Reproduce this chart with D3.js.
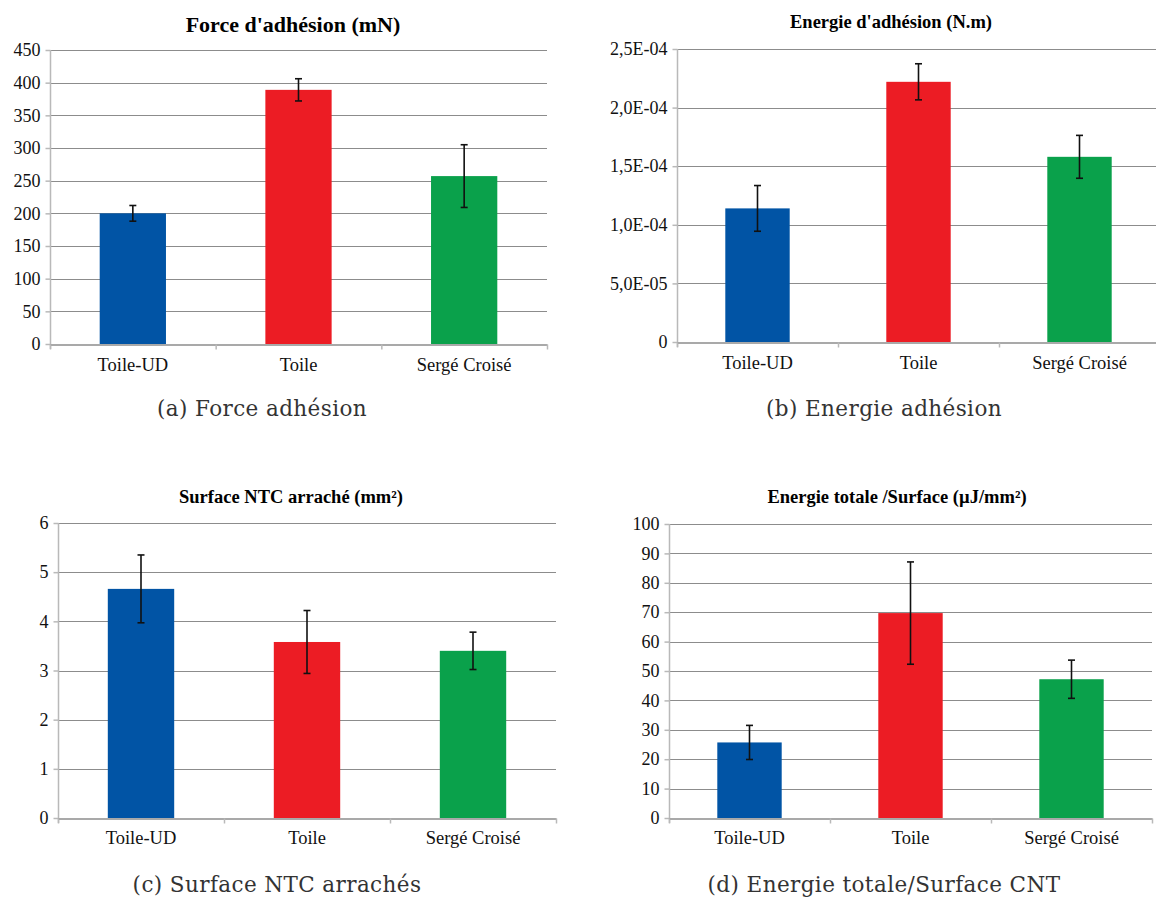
<!DOCTYPE html>
<html>
<head>
<meta charset="utf-8">
<script src="https://cdn.jsdelivr.net/npm/d3@7"></script>
<style>
  html, body { margin: 0; padding: 0; background: #fff; }
  svg { display: block; }
</style>
</head>
<body>
<svg id="fig" width="1156" height="900"></svg>
<script>
// ---------- DATA ----------
const categories = ["Toile-UD", "Toile", "Sergé Croisé"];
const barColors = ["#0154a5", "#ec1c24", "#0aa14b"];

const forceValues = [200, 389, 257];
const forceErrors = [12, 17, 48];
const forceTicks = [0, 50, 100, 150, 200, 250, 300, 350, 400, 450];
const forceTickLabels = ["0", "50", "100", "150", "200", "250", "300", "350", "400", "450"];

const energyValues = [1.14e-4, 2.22e-4, 1.58e-4];
const energyErrors = [0.195e-4, 0.154e-4, 0.183e-4];
const energyTicks = [0, 5e-5, 1e-4, 1.5e-4, 2e-4, 2.5e-4];
const energyTickLabels = ["0", "5,0E-05", "1,0E-04", "1,5E-04", "2,0E-04", "2,5E-04"];

const surfaceValues = [4.66, 3.58, 3.40];
const surfaceErrors = [0.69, 0.64, 0.38];
const surfaceTicks = [0, 1, 2, 3, 4, 5, 6];
const surfaceTickLabels = ["0", "1", "2", "3", "4", "5", "6"];

const ratioValues = [25.7, 69.7, 47.2];
const ratioErrors = [5.8, 17.4, 6.5];
const ratioTicks = [0, 10, 20, 30, 40, 50, 60, 70, 80, 90, 100];
const ratioTickLabels = ["0", "10", "20", "30", "40", "50", "60", "70", "80", "90", "100"];

const titles = ["Force d'adhésion (mN)", "Energie d'adhésion (N.m)", "Surface NTC arraché (mm²)", "Energie totale /Surface (µJ/mm²)"];
const captions = ["(a) Force adhésion", "(b) Energie adhésion", "(c) Surface NTC arrachés", "(d) Energie totale/Surface CNT"];

// ---------- LAYOUT ----------
const panels = [
  { values: forceValues, errors: forceErrors, ticks: forceTicks, tickLabels: forceTickLabels, title: titles[0], caption: captions[0],
    x0: 50, x1: 547, yTop: 50, y0: 344, titleX: 293, titleY: 32, titleSize: 22, catY: 371, capX: 262, capY: 416 },
  { values: energyValues, errors: energyErrors, ticks: energyTicks, tickLabels: energyTickLabels, title: titles[1], caption: captions[1],
    x0: 677, x1: 1160, yTop: 49, y0: 342, titleX: 891, titleY: 28, titleSize: 18.5, catY: 369, capX: 884, capY: 416 },
  { values: surfaceValues, errors: surfaceErrors, ticks: surfaceTicks, tickLabels: surfaceTickLabels, title: titles[2], caption: captions[2],
    x0: 58, x1: 556, yTop: 523, y0: 818, titleX: 291, titleY: 503, titleSize: 18.5, catY: 844, capX: 277, capY: 892 },
  { values: ratioValues, errors: ratioErrors, ticks: ratioTicks, tickLabels: ratioTickLabels, title: titles[3], caption: captions[3],
    x0: 669, x1: 1152, yTop: 524, y0: 818, titleX: 897, titleY: 503, titleSize: 18.5, catY: 844, capX: 884, capY: 892 }
];

const svg = d3.select("#fig");
const serif = "'Liberation Serif', 'Times New Roman', serif";
const capFont = "'DejaVu Serif', serif";
const gridColor = "#8c8c8c";
const axisColor = "#b9b9b9";

panels.forEach(p => {
  const g = svg.append("g");
  const yMax = p.ticks[p.ticks.length - 1];
  const y = d3.scaleLinear().domain([0, yMax]).range([p.y0, p.yTop]);
  const x = d3.scaleBand().domain(categories).range([p.x0, p.x1]).paddingInner(0.6).paddingOuter(0.3);
  const xEdge = d3.scaleLinear().domain([0, categories.length]).range([p.x0, p.x1]);

  // gridlines
  g.append("g").selectAll("line").data(p.ticks.slice(1)).join("line")
    .attr("x1", p.x0).attr("x2", p.x1)
    .attr("y1", d => Math.round(y(d)) + 0.5).attr("y2", d => Math.round(y(d)) + 0.5)
    .attr("stroke", gridColor).attr("stroke-width", 1.2);

  // bars
  g.append("g").selectAll("rect").data(categories).join("rect")
    .attr("x", d => x(d)).attr("width", x.bandwidth())
    .attr("y", (d, i) => y(p.values[i]))
    .attr("height", (d, i) => y(0) - y(p.values[i]))
    .attr("fill", (d, i) => barColors[i]);

  // y axis
  const yAxis = d3.axisLeft(y).tickValues(p.ticks).tickFormat((d, i) => p.tickLabels[i]).tickSize(5).tickSizeOuter(0).tickPadding(5);
  const ya = g.append("g").attr("transform", `translate(${p.x0 + 0.5},0)`).call(yAxis);
  ya.attr("font-family", null).attr("font-size", null);
  ya.select(".domain").attr("stroke", axisColor).attr("stroke-width", 1.5).attr("d", `M0,${p.yTop}V${p.y0 + 5}`);
  ya.selectAll(".tick line").attr("stroke", axisColor).attr("stroke-width", 1.5);
  ya.selectAll(".tick text").style("font-family", serif).style("font-size", "18px").attr("fill", "#111");

  // x axis (category boundaries)
  const xAxis = d3.axisBottom(xEdge).tickValues(d3.range(categories.length + 1)).tickFormat("").tickSize(5).tickSizeOuter(0);
  const xa = g.append("g").attr("transform", `translate(0,${p.y0 + 0.5})`).call(xAxis);
  xa.select(".domain").attr("stroke", gridColor).attr("stroke-width", 1.5);
  xa.selectAll(".tick line").attr("stroke", axisColor).attr("stroke-width", 1.5);

  // category labels
  g.append("g").selectAll("text").data(categories).join("text")
    .attr("x", d => x(d) + x.bandwidth() / 2).attr("y", p.catY)
    .attr("text-anchor", "middle").style("font-family", serif).style("font-size", "18.5px").attr("fill", "#111")
    .text(d => d);

  // error bars
  const eb = g.append("g").attr("stroke", "#111").attr("stroke-width", 1.6);
  categories.forEach((c, i) => {
    const cx = x(c) + x.bandwidth() / 2;
    const hi = y(p.values[i] + p.errors[i]);
    const lo = y(p.values[i] - p.errors[i]);
    eb.append("line").attr("x1", cx).attr("x2", cx).attr("y1", hi).attr("y2", lo);
    eb.append("line").attr("x1", cx - 3.5).attr("x2", cx + 3.5).attr("y1", hi).attr("y2", hi);
    eb.append("line").attr("x1", cx - 3.5).attr("x2", cx + 3.5).attr("y1", lo).attr("y2", lo);
  });

  // title
  g.append("text").attr("x", p.titleX).attr("y", p.titleY).attr("text-anchor", "middle")
    .style("font-family", serif).style("font-weight", "bold").style("font-size", p.titleSize + "px").attr("fill", "#000")
    .text(p.title);

  // caption
  g.append("text").attr("x", p.capX).attr("y", p.capY).attr("text-anchor", "middle")
    .style("font-family", capFont).style("font-size", "21.5px").style("letter-spacing", "0.4px").attr("fill", "#333")
    .text(p.caption);
});
</script>
</body>
</html>
